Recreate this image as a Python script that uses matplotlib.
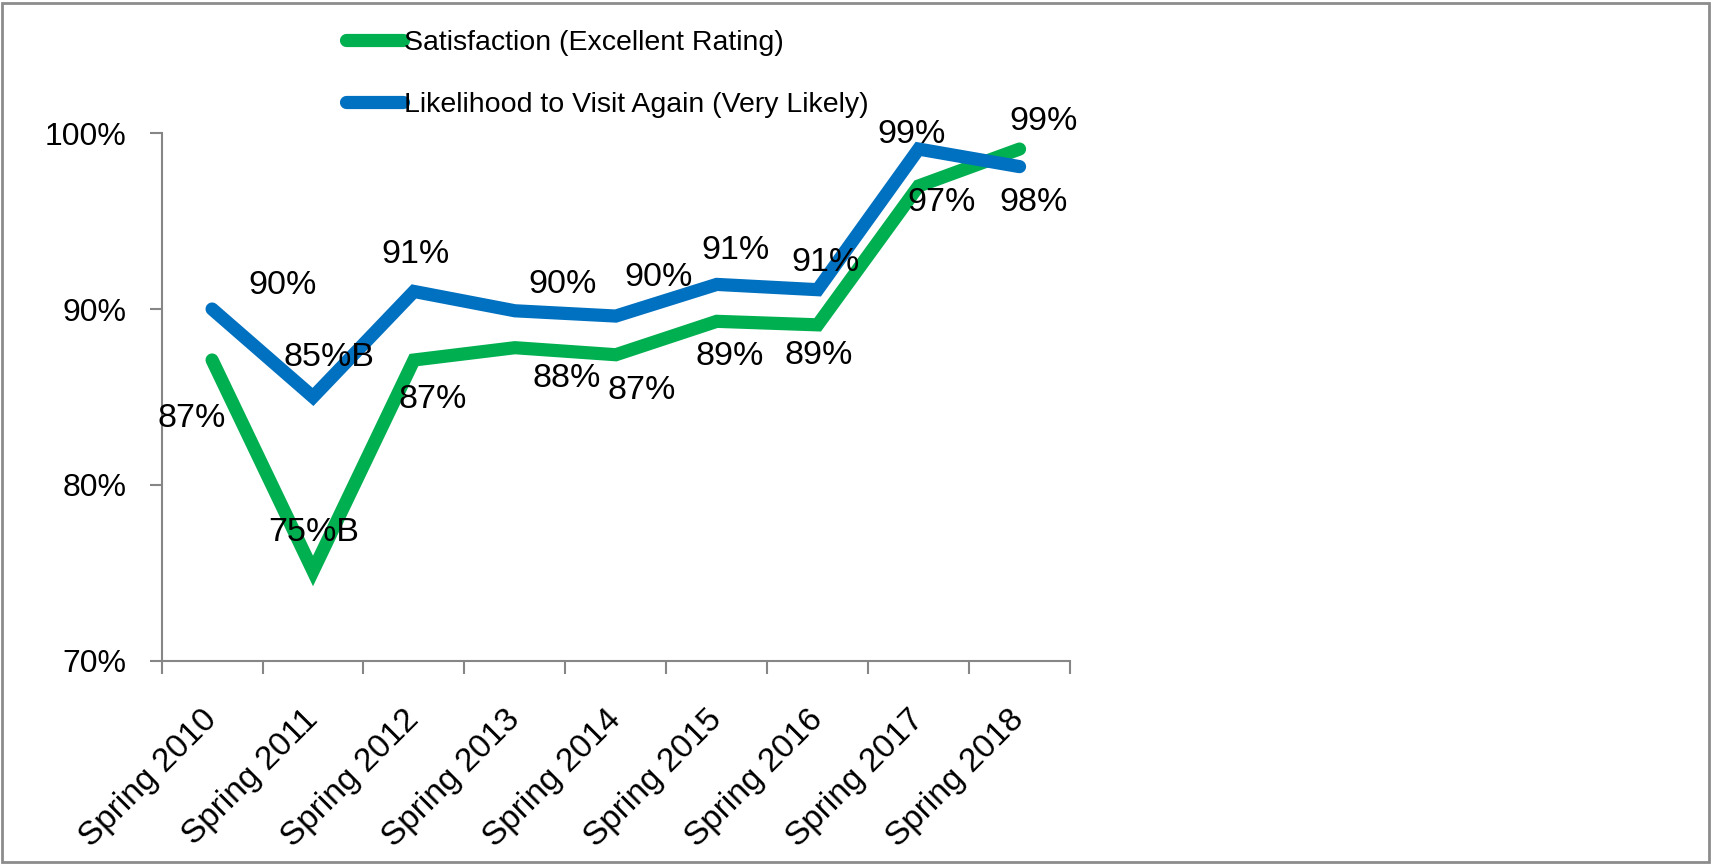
import matplotlib.pyplot as plt
from matplotlib.patches import Rectangle
from matplotlib.transforms import ScaledTranslation

plt.rcParams['font.family'] = ['Liberation Sans', 'DejaVu Sans']

seasons = ['Spring 2010', 'Spring 2011', 'Spring 2012', 'Spring 2013', 'Spring 2014',
           'Spring 2015', 'Spring 2016', 'Spring 2017', 'Spring 2018']
satisfaction = [87.1, 75.1, 87.1, 87.8, 87.4, 89.3, 89.1, 97.0, 99.1]
satisfaction_labels = ['87%', '75%B', '87%', '88%', '87%', '89%', '89%', '97%', '99%']
likelihood = [90.0, 85.0, 91.0, 89.9, 89.6, 91.4, 91.1, 99.1, 98.1]
likelihood_labels = ['90%', '85%B', '91%', '90%', '90%', '91%', '91%', '99%', '98%']

# label offsets (pixels) mimicking Excel's auto placement
sat_offsets = [(-20, -58), (1, 38), (19, -39), (52, -31), (26, -36), (13, -35), (1, -31), (23, -17), (24, 28)]
lik_offsets = [(70, 24), (16, 39), (2, 37), (48, 26), (43, 39), (19, 34), (8, 27), (-7, 15), (14, -36)]

green = '#00B050'
blue = '#0070C0'
grey = '#868686'

fig = plt.figure(figsize=(17.12, 8.64), dpi=100)
ax = fig.add_axes([0.0944, 0.2354, 0.5306, 0.6104])

x = list(range(len(seasons)))
ax.plot(x, satisfaction, color=green, lw=9.5, solid_capstyle='round', solid_joinstyle='miter',
        label='Satisfaction (Excellent Rating)', zorder=3)
ax.plot(x, likelihood, color=blue, lw=9.5, solid_capstyle='round', solid_joinstyle='miter',
        label='Likelihood to Visit Again (Very Likely)', zorder=3)

for xi, yi, txt, off in zip(x, satisfaction, satisfaction_labels, sat_offsets):
    ax.annotate(txt, (xi, yi), xytext=off, textcoords='offset pixels',
                ha='center', va='center', fontsize=24.5, zorder=4)
for xi, yi, txt, off in zip(x, likelihood, likelihood_labels, lik_offsets):
    ax.annotate(txt, (xi, yi), xytext=off, textcoords='offset pixels',
                ha='center', va='center', fontsize=24.5, zorder=4)

ax.set_xlim(-0.5, len(seasons) - 0.5)
ax.set_ylim(70, 100)
ax.set_yticks([70, 80, 90, 100])
ax.set_yticklabels(['70%', '80%', '90%', '100%'], fontsize=23)

# ticks at category boundaries, labels at centres
ax.set_xticks([i - 0.5 for i in range(len(seasons) + 1)])
ax.set_xticklabels([])
ax.set_xticks(x, minor=True)
ax.set_xticklabels(seasons, minor=True, fontsize=24, rotation=45,
                   ha='right', va='center', rotation_mode='anchor')
shift = ScaledTranslation(0.1, 0, fig.dpi_scale_trans)
for lab in ax.get_xticklabels(minor=True):
    lab.set_transform(lab.get_transform() + shift)
ax.tick_params(axis='x', which='minor', length=0, pad=39)
ax.tick_params(axis='x', which='major', length=9, width=1.5, color=grey)
ax.tick_params(axis='y', length=8.5, width=1.5, color=grey, pad=17)

for side in ['top', 'right']:
    ax.spines[side].set_visible(False)
for side in ['left', 'bottom']:
    ax.spines[side].set_color(grey)
    ax.spines[side].set_linewidth(1.5)

fig.legend(loc='upper left', bbox_to_anchor=(346 / 1712, 1 - 30 / 864), frameon=False,
           fontsize=20.5, handlelength=2.0, handletextpad=0.05, labelspacing=1.28,
           borderpad=0, borderaxespad=0)

fig.patches.append(Rectangle((0.001, 0.002), 0.997, 0.995, transform=fig.transFigure,
                             fill=False, edgecolor='#8c8c8c', lw=2))

fig.savefig('out.png', dpi=100)
